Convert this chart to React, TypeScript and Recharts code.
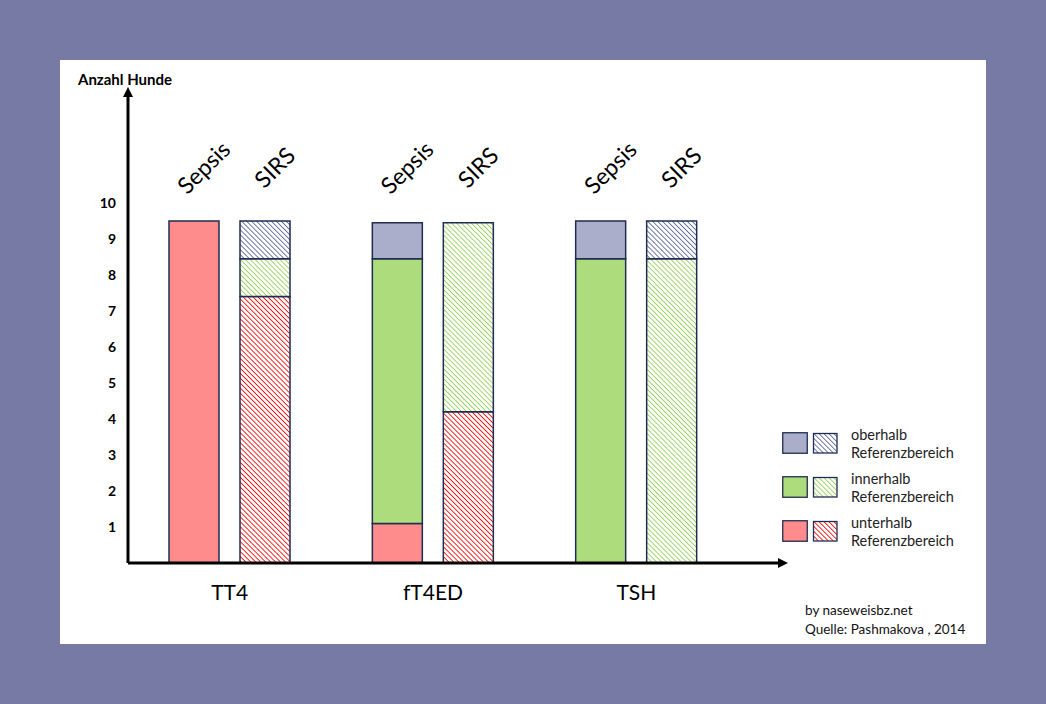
import { Bar, BarChart, XAxis, YAxis } from "recharts"

// groups of the study and stack values (Anzahl Hunde)
const groups = ["TT4", "fT4ED", "TSH"]
const stackNames = ["Sepsis", "SIRS"]
const sepsisUnter = [9.5, 1.1, 0]
const sepsisInner = [0, 7.35, 8.45]
const sepsisOber = [0, 1.0, 1.05]
const sirsUnter = [7.4, 4.2, 0]
const sirsInner = [1.05, 5.25, 8.45]
const sirsOber = [1.05, 0, 1.05]
const yTicks = [1, 2, 3, 4, 5, 6, 7, 8, 9, 10]

const legendItems = [
  { name: "oberhalb", solid: "#abaecb", hatch: "url(#hatchOber)" },
  { name: "innerhalb", solid: "#addc7c", hatch: "url(#hatchInner)" },
  { name: "unterhalb", solid: "#ff8c8c", hatch: "url(#hatchUnter)" },
]

const rows = groups.map((g, i) => ({
  group: g,
  sepsisUnter: sepsisUnter[i],
  sepsisInner: sepsisInner[i],
  sepsisOber: sepsisOber[i],
  sirsUnter: sirsUnter[i],
  sirsInner: sirsInner[i],
  sirsOber: sirsOber[i],
}))

const FONT = "Lato, 'Open Sans', sans-serif"
const EDGE = "#1f2d50"
const BAR_SIZE = 50
const BAR_GAP = 21

// category name under the axis plus the rotated stack names above the columns
const GroupTick = (props: any) => {
  const { x, y, payload } = props
  const half = (BAR_SIZE + BAR_GAP) / 2
  const labelY = 107
  return (
    <g>
      <text x={x} y={y} dy="0.71em" textAnchor="middle" fontSize={21} fontFamily={FONT} fill="#000">
        {payload.value}
      </text>
      {stackNames.map((name, k) => {
        const cx = x + (k === 0 ? -half : half) + 9
        return (
          <text
            key={name}
            x={cx}
            y={labelY}
            transform={`rotate(-45 ${cx} ${labelY})`}
            textAnchor="middle"
            dominantBaseline="central"
            fontSize={23}
            fontFamily={FONT}
            fill="#000"
          >
            {name}
          </text>
        )
      })}
    </g>
  )
}

function Hatch({ id, color }: { id: string; color: string }) {
  return (
    <pattern id={id} patternUnits="userSpaceOnUse" width={3.5} height={3.5} patternTransform="rotate(-45)">
      <rect width={3.5} height={3.5} fill="#fff" />
      <line x1={0} y1={0} x2={0} y2={3.5} stroke={color} strokeWidth={1.7} />
    </pattern>
  )
}

export default function App() {
  return (
    <div
      style={{
        position: "absolute",
        left: 0,
        top: 0,
        width: 1046,
        height: 704,
        background: "#767aa5",
        fontFamily: FONT,
      }}
    >
      <div style={{ position: "absolute", left: 60, top: 60, width: 926, height: 584, background: "#fff" }}>
        <svg width={0} height={0} style={{ position: "absolute" }}>
          <defs>
            <Hatch id="hatchOber" color="#5a62a0" />
            <Hatch id="hatchInner" color="#92d050" />
            <Hatch id="hatchUnter" color="#ff0000" />
            <marker
              id="arrowHead"
              viewBox="0 0 10 10"
              refX={2}
              refY={5}
              markerWidth={10}
              markerHeight={10}
              markerUnits="userSpaceOnUse"
              orient="auto-start-reverse"
            >
              <path d="M0,0 L10,5 L0,10 z" fill="#000" />
            </marker>
          </defs>
        </svg>

        <div style={{ position: "absolute", left: 18, top: 10, fontSize: 15, fontWeight: 700, color: "#000" }}>
          Anzahl Hunde
        </div>

        <BarChart
          width={926}
          height={584}
          data={rows}
          margin={{ top: 35, right: 206, bottom: 51, left: 0 }}
          barSize={BAR_SIZE}
          barGap={BAR_GAP}
        >
          <XAxis
            dataKey="group"
            height={30}
            padding={{ left: 0, right: 42 }}
            axisLine={{ stroke: "#000", strokeWidth: 3, markerEnd: "url(#arrowHead)" } as any}
            tickLine={false}
            tickMargin={16}
            tick={<GroupTick />}
          />
          <YAxis
            type="number"
            domain={[0, 13]}
            ticks={yTicks}
            width={68}
            axisLine={{ stroke: "#000", strokeWidth: 3, markerStart: "url(#arrowHead)" } as any}
            tickLine={false}
            tickMargin={6}
            tick={{ fontSize: 14, fontWeight: 700, fill: "#000", fontFamily: FONT }}
          />
          <Bar dataKey="sepsisUnter" stackId="sepsis" fill="#ff8c8c" stroke={EDGE} strokeWidth={1.5} isAnimationActive={false} />
          <Bar dataKey="sepsisInner" stackId="sepsis" fill="#addc7c" stroke={EDGE} strokeWidth={1.5} isAnimationActive={false} />
          <Bar dataKey="sepsisOber" stackId="sepsis" fill="#abaecb" stroke={EDGE} strokeWidth={1.5} isAnimationActive={false} />
          <Bar dataKey="sirsUnter" stackId="sirs" fill="url(#hatchUnter)" stroke={EDGE} strokeWidth={1.5} isAnimationActive={false} />
          <Bar dataKey="sirsInner" stackId="sirs" fill="url(#hatchInner)" stroke={EDGE} strokeWidth={1.5} isAnimationActive={false} />
          <Bar dataKey="sirsOber" stackId="sirs" fill="url(#hatchOber)" stroke={EDGE} strokeWidth={1.5} isAnimationActive={false} />
        </BarChart>

        <div style={{ position: "absolute", left: 722, top: 365, display: "flex", flexDirection: "column", gap: 7 }}>
          {legendItems.map((it) => (
            <div key={it.name} style={{ display: "flex", alignItems: "center", height: 37 }}>
              <svg width={60} height={23} style={{ marginRight: 9 }}>
                <rect x={0.75} y={0.75} width={24.5} height={20.5} fill={it.solid} stroke={EDGE} strokeWidth={1.3} />
                <rect x={31.5} y={1.5} width={23.5} height={19.5} fill={it.hatch} stroke={EDGE} strokeWidth={1.3} />
              </svg>
              <div style={{ fontSize: 14.5, lineHeight: "18px", color: "#222" }}>
                <div>{it.name}</div>
                <div>Referenzbereich</div>
              </div>
            </div>
          ))}
        </div>

        <div style={{ position: "absolute", left: 745, top: 541, fontSize: 13.5, lineHeight: "19px", color: "#111" }}>
          <div>by naseweisbz.net</div>
          <div>Quelle: Pashmakova , 2014</div>
        </div>
      </div>
    </div>
  )
}
